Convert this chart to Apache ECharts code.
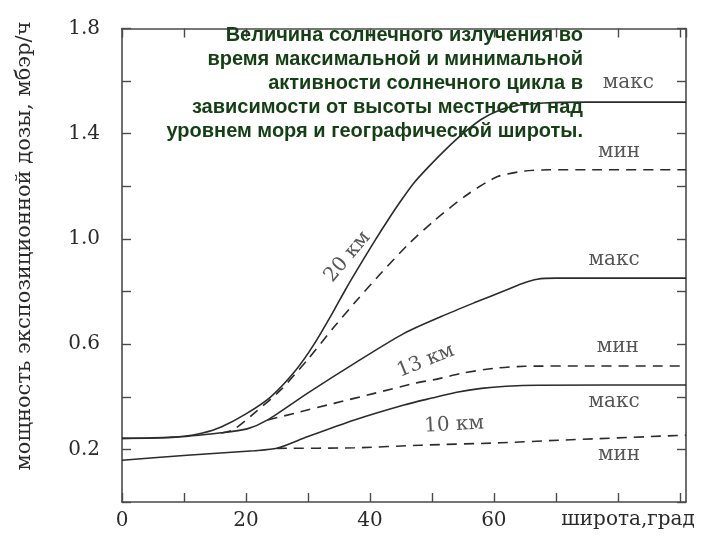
<!DOCTYPE html>
<html>
<head>
<meta charset="utf-8">
<script src="https://cdn.jsdelivr.net/npm/echarts@6/dist/echarts.min.js"></script>
<style>html,body{margin:0;padding:0;background:#fff}#c{width:720px;height:540px}</style>
</head>
<body>
<div id="c"></div>
<script>
// ---- data (latitude, degrees; dose rate, mbar/h) ----
const lat20max = [0, 5, 10, 13, 16, 20, 24, 28, 31, 34, 36, 38, 40.7, 43, 45, 47, 49.3, 52, 55, 58, 61, 64, 68, 75, 91];
const dose20max = [0.242, 0.244, 0.25, 0.262, 0.285, 0.335, 0.40, 0.50, 0.60, 0.72, 0.805, 0.885, 0.99, 1.075, 1.145, 1.21, 1.27, 1.335, 1.40, 1.455, 1.49, 1.508, 1.517, 1.52, 1.52];

const lat20min = [16, 18, 21.3, 25.6, 29.9, 34.2, 38, 42, 46, 50.4, 55.8, 60.6, 65, 69, 75, 91];
const dose20min = [0.262, 0.275, 0.337, 0.426, 0.54, 0.665, 0.77, 0.875, 0.975, 1.07, 1.17, 1.237, 1.258, 1.263, 1.263, 1.263];

const lat13max = [0, 8, 16, 20.2, 23.5, 29.9, 37.5, 45.5, 51.5, 56.8, 62, 64.5, 67, 70, 80, 91];
const dose13max = [0.242, 0.245, 0.263, 0.278, 0.312, 0.413, 0.527, 0.641, 0.705, 0.757, 0.806, 0.83, 0.847, 0.851, 0.851, 0.851];

const lat13min = [23.5, 27.8, 34.2, 40.7, 47.2, 51, 55, 60, 65, 75, 91];
const dose13min = [0.312, 0.337, 0.375, 0.413, 0.451, 0.468, 0.49, 0.508, 0.516, 0.517, 0.517];

const lat10max = [0, 10.5, 21.3, 25, 29.9, 37.5, 45.5, 50, 54, 58, 62, 67, 91];
const dose10max = [0.159, 0.178, 0.195, 0.204, 0.248, 0.312, 0.369, 0.395, 0.417, 0.432, 0.440, 0.444, 0.445];

const lat10min = [25, 37.5, 48.2, 61.1, 70.6, 91];
const dose10min = [0.204, 0.206, 0.216, 0.225, 0.235, 0.254];

// annotations
const noteText = ['макс', 'мин', 'макс', 'мин', 'макс', 'мин', '20 км', '13 км', '10 км'];
const noteLat = [81.7, 80.2, 79.4, 80.0, 79.4, 80.2, 36.4, 49.0, 53.6];
const noteDose = [1.594, 1.331, 0.921, 0.590, 0.380, 0.178, 0.932, 0.536, 0.293];
const noteAngle = [0, 0, 0, 0, 0, 0, 50, 22, 3];

const xTickLabels = [0, 20, 40, 60];
const yTickLabels = ['0.2', '0.6', '1.0', '1.4', '1.8'];

const titleLines = [
  'Величина солнечного излучения во',
  'время максимальной и минимальной',
  'активности солнечного цикла в',
  'зависимости от высоты местности над',
  'уровнем моря и географической широты.'
];
const xName = 'широта,град';
const yName = 'мощность экспозиционной дозы, мбэр/ч';

// ---- build ----
const zip = (a, b) => a.map((v, i) => [v, b[i]]);
const SERIF = '"DejaVu Serif", "Liberation Serif", serif';
const INK = '#2b2b2b';
const FRAME = '#4a4a4a';
const TXT = '#2a2a2a';

function lineSeries(name, xs, ys, dashed) {
  return {
    name: name, type: 'line', data: zip(xs, ys), showSymbol: false,
    smooth: 0.25,
    lineStyle: { color: INK, width: 1.6, type: dashed ? [10, 7] : 'solid' },
    silent: true, z: 3
  };
}

const chart = echarts.init(document.getElementById('c'), null, { renderer: 'canvas' });
const axisCommon = {
  type: 'value', min: 0,
  axisLine: { show: true, onZero: false, lineStyle: { color: FRAME, width: 1.6 } },
  axisTick: { show: true, inside: true, length: 9, lineStyle: { color: FRAME, width: 1.4 } },
  splitLine: { show: false }
};

chart.setOption({
  backgroundColor: '#fff',
  animation: false,
  grid: { left: 122, right: 34, top: 28.5, bottom: 38 },
  xAxis: [
    Object.assign({}, axisCommon, {
      max: 91, interval: 10, position: 'bottom',
      axisLabel: {
        show: true, margin: 9, showMaxLabel: false,
        formatter: v => (xTickLabels.indexOf(v) >= 0 ? String(v) : ''),
        fontFamily: SERIF, fontSize: 20, color: TXT
      }
    }),
    Object.assign({}, axisCommon, {
      max: 91, interval: 10, position: 'top',
      axisLabel: { show: false }
    })
  ],
  yAxis: [
    Object.assign({}, axisCommon, {
      max: 1.8, interval: 0.2, position: 'left',
      axisLabel: {
        show: true, margin: 22,
        formatter: v => { const s = v.toFixed(1); return yTickLabels.indexOf(s) >= 0 ? s : ''; },
        fontFamily: SERIF, fontSize: 20, color: TXT
      }
    }),
    Object.assign({}, axisCommon, {
      max: 1.8, interval: 0.2, position: 'right',
      axisLabel: { show: false }
    })
  ],
  graphic: [
    { type: 'text', x: 583, y: 23, silent: true, z: 10,
      style: {
        text: titleLines.join('\n'),
        font: 'bold 20px "Liberation Sans Narrow", "Arial Narrow", "Liberation Sans", sans-serif',
        fill: '#143f14', align: 'right', verticalAlign: 'top', lineHeight: 24
      } },
    { type: 'text', x: 628, y: 520, silent: true,
      style: { text: xName, font: '20px ' + SERIF, fill: TXT, align: 'center', verticalAlign: 'middle' } },
    { type: 'text', x: 25, y: 246, rotation: Math.PI / 2, silent: true,
      style: { text: yName, font: '21px ' + SERIF, fill: TXT, align: 'center', verticalAlign: 'middle' } }
  ],
  series: [
    lineSeries('20 км макс', lat20max, dose20max, false),
    lineSeries('20 км мин', lat20min, dose20min, true),
    lineSeries('13 км макс', lat13max, dose13max, false),
    lineSeries('13 км мин', lat13min, dose13min, true),
    lineSeries('10 км макс', lat10max, dose10max, false),
    lineSeries('10 км мин', lat10min, dose10min, true),
    {
      type: 'scatter', silent: true, symbolSize: 1, z: 4,
      itemStyle: { color: 'rgba(0,0,0,0)' },
      data: noteText.map((t, i) => ({
        name: t, value: [noteLat[i], noteDose[i]],
        label: { rotate: noteAngle[i] }
      })),
      label: {
        show: true, position: 'inside', formatter: '{b}',
        fontFamily: SERIF, fontSize: 20, color: TXT
      }
    }
  ]
});
</script>
</body>
</html>
